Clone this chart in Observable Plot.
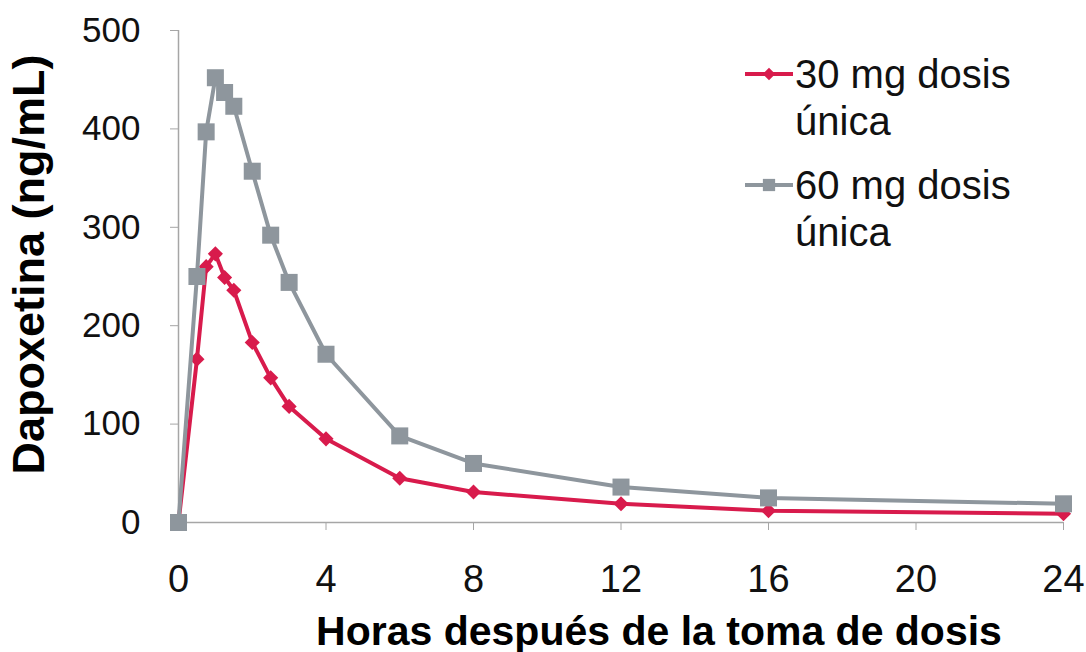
<!DOCTYPE html>
<html>
<head>
<meta charset="utf-8">
<script src="https://cdn.jsdelivr.net/npm/d3@7"></script>
<script src="https://cdn.jsdelivr.net/npm/@observablehq/plot@0.6"></script>
<style>
  html, body { margin: 0; padding: 0; background: #fff; }
  #wrap { position: relative; width: 1086px; height: 652px; font-family: "Liberation Sans", Arial, sans-serif; }
  #legend { position: absolute; left: 745px; top: 51px; color: #111; }
  .entry { display: flex; align-items: flex-start; margin-bottom: 17px; }
  .entry svg { flex: none; }
  .entry .txt { font-size: 40px; line-height: 47px; margin-left: 0px; }
</style>
</head>
<body>
<div id="wrap"><div id="chart"></div><div id="legend"></div></div>
<script>
// Hours after dose
const hours = [0, 0.5, 0.75, 1, 1.25, 1.5, 2, 2.5, 3, 4, 6, 8, 12, 16, 24];
// Dapoxetine concentration (ng/mL)
const conc30 = [0, 166, 260, 273, 249, 236, 183, 147, 118, 85, 45, 31, 19, 12, 9];
const conc60 = [0, 250, 397, 452, 437, 423, 357, 292, 244, 171, 88, 60, 36, 25, 19];
const seriesNames = ["30 mg dosis única", "60 mg dosis única"];
const seriesColors = ["#d81b4c", "#8e969d"];
const xTicks = [0, 4, 8, 12, 16, 20, 24];
const yTicks = [0, 100, 200, 300, 400, 500];
const xLabel = "Horas después de la toma de dosis";
const yLabel = "Dapoxetina (ng/mL)";

const d30 = hours.map((h, i) => ({h, c: conc30[i]}));
const d60 = hours.map((h, i) => ({h, c: conc60[i]}));

const axisGray = "#a6a6a6";
const chart = Plot.plot({
  width: 1086,
  height: 652,
  marginLeft: 178,
  marginRight: 23,
  marginTop: 30,
  marginBottom: 130,
  style: {fontFamily: "'Liberation Sans', Arial, sans-serif", background: "white", color: "#111"},
  x: {domain: [0, 24]},
  y: {domain: [0, 500]},
  marks: [
    Plot.ruleX([0], {stroke: axisGray, strokeWidth: 1.5}),
    Plot.ruleY([0], {stroke: axisGray, strokeWidth: 1.5}),
    Plot.axisY({ticks: yTicks, tickSize: 8, tickPadding: 30, fontSize: 35, stroke: axisGray, fill: "#111", label: null}),
    Plot.axisX({ticks: xTicks, tickSize: 8, tickPadding: 35, fontSize: 38, stroke: axisGray, fill: "#111", label: null}),
    Plot.text([yLabel], {frameAnchor: "left", rotate: -90, textAnchor: "middle", lineAnchor: "top", dx: -166, dy: -12, fontSize: 45, fontWeight: "bold", fill: "#000"}),
    Plot.text([xLabel], {frameAnchor: "bottom", textAnchor: "middle", lineAnchor: "bottom", dx: 38, dy: 122, fontSize: 41, fontWeight: "bold", fill: "#000"}),
    Plot.line(d30, {x: "h", y: "c", stroke: seriesColors[0], strokeWidth: 4}),
    Plot.dot(d30, {x: "h", y: "c", symbol: "diamond2", r: 6.8, fill: seriesColors[0], stroke: "none"}),
    Plot.line(d60, {x: "h", y: "c", stroke: seriesColors[1], strokeWidth: 4}),
    Plot.dot(d60, {x: "h", y: "c", symbol: "square", r: 9.6, fill: seriesColors[1], stroke: "none"})
  ]
});
document.getElementById("chart").appendChild(chart);

// Legend
const legend = d3.select("#legend");
const symbols = [d3.symbolDiamond2, d3.symbolSquare];
const symSizes = [100, 150];
seriesNames.forEach((name, i) => {
  const e = legend.append("div").attr("class", "entry");
  const s = e.append("svg").attr("width", 50).attr("height", 47);
  s.append("line").attr("x1", 0).attr("x2", 48).attr("y1", 23).attr("y2", 23)
    .attr("stroke", seriesColors[i]).attr("stroke-width", 4);
  s.append("path").attr("d", d3.symbol(symbols[i], symSizes[i])())
    .attr("transform", "translate(24,23)").attr("fill", seriesColors[i]);
  const parts = name.split(" ");
  e.append("div").attr("class", "txt").html(parts.slice(0, 3).join(" ") + "<br>" + parts.slice(3).join(" "));
});
</script>
</body>
</html>
